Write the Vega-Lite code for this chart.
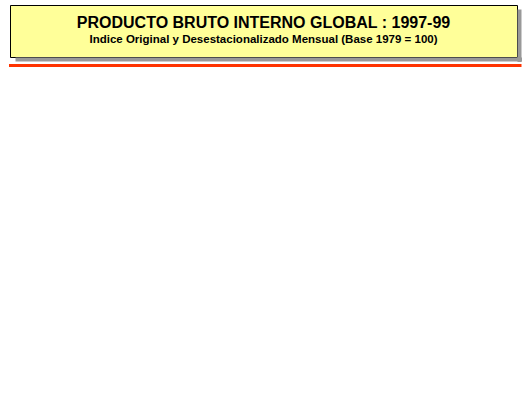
{
  "$schema": "https://vega.github.io/schema/vega-lite/v6.json",
  "config": {"view": {"stroke": null}},
  "width": 507,
  "height": 52,
  "view": {"fill": "#FFFF99", "stroke": "black", "strokeWidth": 1},
  "title": {
    "text": "PRODUCTO BRUTO INTERNO GLOBAL : 1997-99",
    "subtitle": "Indice Original y Desestacionalizado Mensual (Base 1979 = 100)",
    "font": "Liberation Sans", "fontSize": 16, "color": "black",
    "subtitleFont": "Liberation Sans", "subtitleFontSize": 11.5, "subtitleFontWeight": "bold", "subtitleColor": "black",
    "anchor": "middle", "frame": "group", "offset": -40
  },
  "data": {"values": [{"a": 0}]},
  "layer": [
    {
      "mark": {"type": "point", "opacity": 0},
      "encoding": {
        "x": {"datum": 0, "type": "quantitative",
          "scale": {"domain": [0, 1], "range": [-1.5, 511], "nice": false, "zero": false},
          "axis": {"orient": "bottom", "offset": 8, "domainColor": "#FF3300", "domainWidth": 3, "ticks": false, "labels": false, "grid": false, "title": null}}
      }
    },
    {
      "mark": {"type": "point", "opacity": 0},
      "encoding": {
        "x": {"datum": 0, "type": "quantitative",
          "scale": {"domain": [0, 1], "range": [5, 511.5], "nice": false, "zero": false},
          "axis": {"orient": "bottom", "offset": 2, "domainColor": "#999999", "domainWidth": 4, "ticks": false, "labels": false, "grid": false, "title": null}},
        "y": {"datum": 0, "type": "quantitative",
          "scale": {"domain": [0, 1], "range": [56.5, 4], "nice": false, "zero": false},
          "axis": {"orient": "right", "offset": 2, "domainColor": "#999999", "domainWidth": 4, "ticks": false, "labels": false, "grid": false, "title": null}}
      }
    }
  ],
  "resolve": {"scale": {"x": "independent", "y": "independent"}, "axis": {"x": "independent", "y": "independent"}}
}
